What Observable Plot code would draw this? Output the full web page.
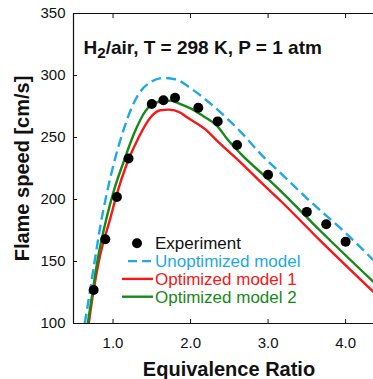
<!DOCTYPE html>
<html>
<head>
<meta charset="utf-8">
<script src="https://cdn.jsdelivr.net/npm/d3@7"></script>
<script src="https://cdn.jsdelivr.net/npm/@observablehq/plot@0.6"></script>
<style>
  html, body { margin: 0; padding: 0; background: #fff; overflow: hidden; }
</style>
</head>
<body>
<div id="chart"></div>
<script>
// ---- Data ----
const expPhi   = [0.75, 0.9, 1.05, 1.2, 1.5, 1.65, 1.8, 2.1, 2.35, 2.6, 3.0, 3.5, 3.75, 4.0];
const expSpeed = [127, 168, 202, 233, 277, 280, 282, 274, 263, 244, 220, 190, 180, 166];

const unoptPhi   = [0.635, 0.70, 0.77, 0.84, 0.92, 1.01, 1.12, 1.22, 1.33, 1.48, 1.65, 1.80, 2.04, 2.30, 2.64, 2.90, 3.20, 3.50, 4.00, 4.36];
const unoptSpeed = [100, 125, 153, 180, 205, 229, 253, 271, 285, 294.5, 298, 297, 288, 275, 255, 237, 219, 201, 173, 151];

const opt1Phi   = [0.687, 0.75, 0.82, 0.97, 1.05, 1.18, 1.33, 1.48, 1.61, 1.72, 1.87, 1.95, 2.21, 2.34, 2.645, 2.94, 3.16, 3.67, 4.36];
const opt1Speed = [100, 127, 151, 186, 204.6, 229, 250, 266, 272, 272.5, 270, 266.5, 255.6, 247.5, 230, 212, 199, 167, 125.4];

const opt2Phi   = [0.674, 0.74, 0.80, 0.92, 1.01, 1.14, 1.27, 1.42, 1.57, 1.74, 1.87, 2.0, 2.17, 2.34, 2.47, 2.645, 2.99, 3.16, 3.67, 4.36];
const opt2Speed = [100, 127, 151, 186, 207, 231, 253, 271.5, 278.4, 279.7, 277, 273.5, 267, 259.6, 249, 237, 217, 207, 175, 133.5];

const xTicks = [1, 2, 3, 4];
const yTicks = [100, 150, 200, 250, 300, 350];
const xDomain = [0.49, 4.36];
const yDomain = [100, 350];

const titleText = "H2/air, T = 298 K, P = 1 atm";
const xLabel = "Equivalence Ratio";
const yLabel = "Flame speed [cm/s]";
const legendLabels = ["Experiment", "Unoptimized model", "Optimized model 1", "Optimized model 2"];

// ---- Styles ----
const FONT = "'Liberation Sans', Arial, Helvetica, sans-serif";
const BLUE = "#1ea9e4";
const RED = "#f81616";
const GREEN = "#168a18";
const INK = "#111";

const toRows = (xs, ys) => xs.map((x, i) => ({x, y: ys[i]}));
const expData = toRows(expPhi, expSpeed);
const unoptData = toRows(unoptPhi, unoptSpeed);
const opt1Data = toRows(opt1Phi, opt1Speed);
const opt2Data = toRows(opt2Phi, opt2Speed);

const plot = Plot.plot({
  width: 373,
  height: 379,
  marginLeft: 73,
  marginRight: 0,
  marginTop: 13,
  marginBottom: 56,
  style: {fontFamily: FONT, fontSize: "15px", color: INK, background: "white"},
  x: {domain: xDomain},
  y: {domain: yDomain},
  marks: [
    // spines (top, bottom, left)
    Plot.ruleY([yDomain[0], yDomain[1]], {stroke: INK, strokeWidth: 1.2}),
    Plot.ruleX([xDomain[0]], {stroke: INK, strokeWidth: 1.2}),
    // inward ticks
    Plot.axisX({anchor: "bottom", ticks: xTicks, tickSize: 4, dy: -4, tickPadding: 14,
      tickFormat: d3.format(".1f"), label: null, fontSize: 15}),
    Plot.axisX({anchor: "top", ticks: xTicks, tickSize: 4, dy: 4, tickFormat: () => "", label: null}),
    Plot.axisY({anchor: "left", ticks: yTicks, tickSize: 4, dx: 4, tickPadding: 8,
      label: null, fontSize: 15}),
    // model curves
    Plot.line(unoptData, {x: "x", y: "y", stroke: BLUE, strokeWidth: 2.4, strokeDasharray: "10,5",
      strokeLinecap: "butt", curve: "monotone-x", clip: true}),
    Plot.line(opt1Data, {x: "x", y: "y", stroke: RED, strokeWidth: 2.4, curve: "monotone-x", clip: true}),
    Plot.line(opt2Data, {x: "x", y: "y", stroke: GREEN, strokeWidth: 2.4, curve: "monotone-x", clip: true}),
    // experiment
    Plot.dot(expData, {x: "x", y: "y", r: 5, fill: "#000", stroke: "none"}),
    // annotation
    Plot.text([titleText], {text: d => d, frameAnchor: "top-left", dx: 10, dy: 40,
      lineAnchor: "bottom", textAnchor: "start", fontSize: 19, fontWeight: "bold", fill: INK}),
    // axis labels
    Plot.text([xLabel], {text: d => d, frameAnchor: "bottom", dx: 5.5, dy: 52.5,
      lineAnchor: "bottom", textAnchor: "middle", fontSize: 20, fontWeight: "bold", fill: INK}),
    Plot.text([yLabel], {text: d => d, frameAnchor: "left", rotate: -90, dx: -45, dy: 0,
      lineAnchor: "bottom", textAnchor: "middle", fontSize: 20, fontWeight: "bold", fill: INK})
  ]
});

document.getElementById("chart").appendChild(plot);

// subscript in the annotation
const svg = d3.select(plot);
svg.selectAll("text").filter(function() { return this.textContent === titleText; })
  .each(function() {
    const t = d3.select(this);
    t.text(null);
    t.append("tspan").text("H");
    t.append("tspan").attr("font-size", "80%").attr("dy", "0.3em").text("2");
    t.append("tspan").attr("dy", "-0.24em").text(titleText.slice(2));
  });

// legend
const lg = svg.append("g").attr("font-family", FONT).attr("font-size", 17)
  .attr("text-anchor", "start");
const legendColors = [INK, BLUE, RED, GREEN];
legendLabels.forEach((label, i) => {
  const yb = 249.3 + i * 17.8;
  const ym = yb - 6;
  if (i === 0) {
    lg.append("circle").attr("cx", 137).attr("cy", ym).attr("r", 5).attr("fill", "#000");
  } else {
    const ln = lg.append("line")
      .attr("x1", i === 1 ? 128 : 122).attr("x2", i === 1 ? 152 : 153)
      .attr("y1", ym).attr("y2", ym)
      .attr("stroke", legendColors[i]).attr("stroke-width", 2.4);
    if (i === 1) ln.attr("stroke-dasharray", "9,5");
  }
  lg.append("text").attr("x", 155).attr("y", yb).attr("text-anchor", "start")
    .attr("fill", legendColors[i]).text(label);
});
</script>
</body>
</html>
